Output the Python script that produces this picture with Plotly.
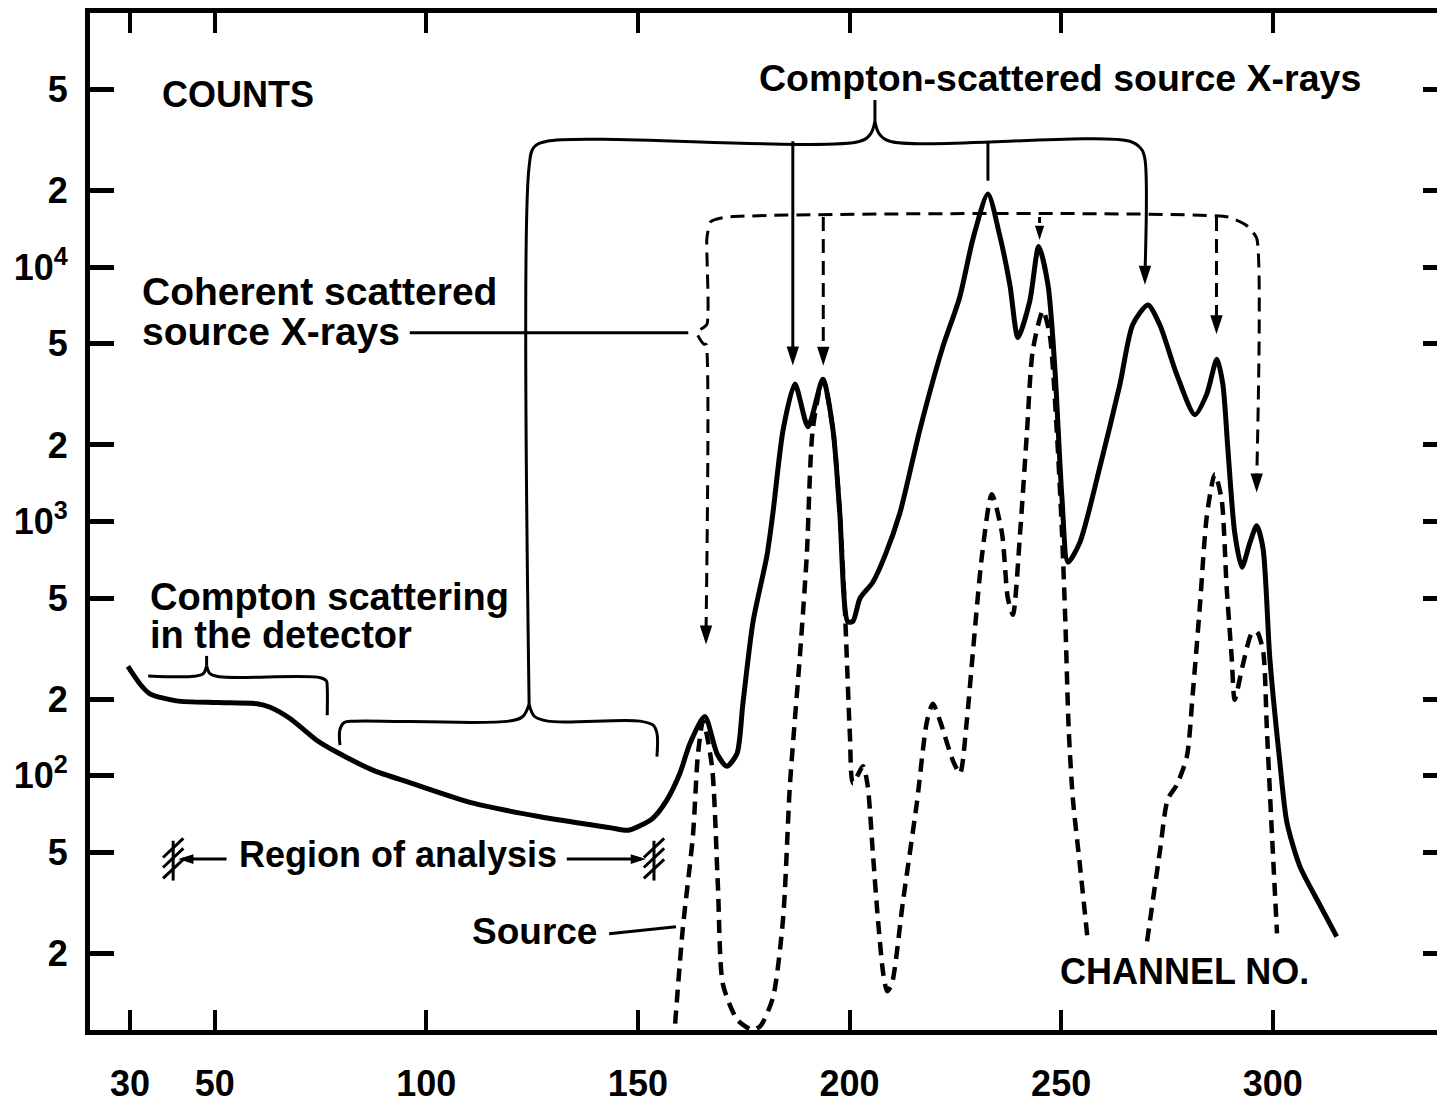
import math
import plotly.graph_objects as go

# ---- measured spectrum: channel number vs counts (total, solid line) ----
total_channel = [29.5, 32.4, 34.7, 41.0, 50.5, 60.0, 63.1, 67.8, 74.1, 78.8,
                 87.5, 96.1, 111.1, 126.9, 143.4, 147.6, 150.5, 153.5, 156.8, 159.9,
                 162.3, 165.8, 168.7, 171.0, 173.4, 174.8, 177.2, 180.5, 181.9, 184.3,
                 187.1, 190.2, 193.7, 196.1, 197.7, 199.6, 200.8, 202.5, 205.5, 208.4,
                 211.9, 216.6, 222.0, 226.0, 229.2, 232.7, 235.5, 237.9, 239.8, 242.6,
                 244.7, 246.9, 248.5, 250.2, 251.6, 254.4, 259.2, 263.9, 266.9, 270.5,
                 273.3, 277.3, 281.6, 284.4, 286.8, 288.2, 289.4, 291.0, 292.7, 294.6,
                 296.2, 297.7, 299.3, 301.7, 303.3, 306.4, 311.1, 315.1]
total_counts = [269, 229, 210, 197, 194, 192, 186, 168, 138, 124,
                105, 94, 78, 69, 62.5, 61, 63.6, 68, 80, 102,
                134, 171, 122, 109, 122, 192, 403, 736, 1080, 2290,
                3470, 2360, 3630, 2290, 1080, 403, 405, 500, 577, 736,
                1080, 2290, 4840, 7590, 13000, 19400, 13300, 8500, 5290, 7380,
                12070, 8500, 4050, 1230, 692, 826, 1650, 3470, 5940, 7110,
                5940, 3790, 2630, 3170, 4350, 3470, 1920, 904, 661, 826,
                962, 783, 290, 112, 66, 44, 31.1, 23.3]

# ---- source spectrum (dashed line), drawn in two pieces ----
source_channel_a = [158.8, 160.6, 163.0, 164.2, 165.4, 167.5, 168.9, 170.1, 173.4, 175.5,
                    177.2, 179.0, 181.9, 184.3, 185.9, 188.3, 189.9, 191.3, 193.7, 196.1,
                    197.7, 198.9, 200.1, 200.8, 203.2, 204.3, 205.5, 206.7, 208.0, 208.9,
                    210.0, 212.6, 215.9, 218.3, 219.7, 221.4, 224.4, 226.1, 227.7, 229.1,
                    231.3, 233.6, 236.0, 237.4, 238.6, 240.3, 241.9, 243.3, 245.7, 247.3,
                    249.0, 250.2, 251.0, 251.8, 252.8, 254.4, 256.3]
source_counts_a = [10.6, 25, 58, 122, 164, 109, 37, 15.1, 11.0, 10.3,
                   10.0, 10.4, 13.4, 27.4, 91, 300, 736, 2290, 3630, 2290,
                   1080, 450, 143, 93.5, 109, 91, 50, 27.4, 16.5, 14.2,
                   15.2, 31.8, 78, 164, 192, 164, 115, 102, 164, 300,
                   736, 1280, 904, 500, 430, 904, 2220, 4710, 6740, 5430,
                   2220, 904, 400, 150, 80, 45, 22.3]
source_channel_b = [270.3, 273.3, 275.2, 277.3, 279.7, 281.1, 282.8, 284.4, 286.3, 287.9,
                    289.1, 290.3, 291.0, 292.9, 295.0, 296.2, 297.7, 298.6, 299.8, 301.0]
source_counts_b = [22.3, 50, 81, 92, 119, 211, 470, 1045, 1535, 1227,
                   552, 290, 199, 272, 362, 369, 311, 153, 59, 24]

# ---- axis ticks ----
x_ticks = [30, 50, 100, 150, 200, 250, 300]
y_ticks = [20, 50, 100, 200, 500, 1000, 2000, 5000, 10000, 20000, 50000]
y_tick_text = ["2", "5", "10<sup>2</sup>", "2", "5", "10<sup>3</sup>", "2", "5",
               "10<sup>4</sup>", "2", "5"]

FONT = "Liberation Sans, Arial, sans-serif"
INK = "black"
lg = math.log10

fig = go.Figure()


def line(xs, ys, width=3, dash=None, smooth=1.0, yaxis="y"):
    fig.add_trace(go.Scatter(
        x=xs, y=ys, mode="lines", yaxis=yaxis,
        line=dict(color=INK, width=width, dash=dash, shape="spline", smoothing=smooth),
        hoverinfo="skip", showlegend=False))


def heads(xs, ys, angle=180, size=20):
    """Filled arrowheads with their tips on the given points (180 = pointing down)."""
    fig.add_trace(go.Scatter(
        x=xs, y=ys, mode="markers",
        marker=dict(symbol="arrow", angle=angle, size=size, color=INK,
                    line=dict(width=0)),
        hoverinfo="skip", showlegend=False))


def label(x, y, text, size=36, anchor="left"):
    fig.add_annotation(x=x, y=lg(y), xref="x", yref="y", text=text, showarrow=False,
                       xanchor=anchor, yanchor="middle",
                       font=dict(family=FONT, size=size, color=INK, weight="bold"))


# spectra (the source curve uses the right-hand counts axis, same scale)
line(total_channel, total_counts, width=5, smooth=0.7)
DASH = "13px,8px"
line(source_channel_a, source_counts_a, width=4.5, dash=DASH, smooth=0.7, yaxis="y2")
line(source_channel_b, source_counts_b, width=4.5, dash=DASH, smooth=0.7, yaxis="y2")

# brace: Compton scattering in the detector
line([34.3, 45.0, 47.3, 48.1], [247, 246, 252, 271])
line([48.1, 48.9, 51.2, 75.0, 76.4, 76.6, 76.6], [271, 252, 245, 243, 236, 222, 173])
line([48.1, 48.1], [271, 296], smooth=0)

# brace + tree: Compton-scattered source X-rays
line([79.6, 79.6, 80.6, 83.0, 119.5, 122.8, 124.3], [132, 152, 162, 164, 164, 171, 191])
line([124.3, 125.6, 128.7, 150.5, 153.6, 154.5, 154.5], [191, 171, 164, 164, 158, 147, 119])
line([124.3, 124.3, 125.4, 128.5, 202.5, 205.0, 206.0],
     [191, 24900, 29600, 31300, 31300, 33500, 37500])
line([206.0, 207.0, 209.5, 266.2, 269.0, 269.8, 269.8],
     [37500, 33500, 31300, 31300, 29100, 26600, 9300])
line([206.0, 206.0], [37500, 45500], smooth=0)
line([186.6, 186.6], [31300, 4500], smooth=0)
line([232.7, 232.7], [31300, 21900], smooth=0)
heads([186.6, 269.8], [4110, 8530])

# dashed tree: coherent scattered source X-rays
BDASH = "14px,8px"
line([166.1, 166.1, 165.6, 163.9, 166.3, 166.3, 167.2, 171.0, 289.5, 293.8, 296.2, 296.2],
     [370, 4980, 4980, 5530, 5960, 13000, 15100, 15750, 15750, 14600, 13000, 1450],
     width=3, dash=BDASH, smooth=0.5)
line([193.8, 193.8], [15750, 4500], width=3, dash=BDASH, smooth=0)
line([244.9, 244.9], [15750, 13800], width=3, dash="6px,4px", smooth=0)
line([286.7, 286.7], [15750, 6000], width=3, dash=BDASH, smooth=0)
heads([166.1, 193.8, 286.7, 296.2], [328, 4100, 5450, 1300])
heads([244.9], [12800], size=15)
line([96.1, 161.9], [5530, 5530], smooth=0)

# region of analysis: hatched limits and arrows
for xc in (40.2, 153.8):
    line([xc, xc], [38.7, 55.5], smooth=0)
    for yc in (52.0, 47.5, 43.0):
        line([xc - 2.4, xc + 2.4], [yc / 1.09, yc * 1.09], smooth=0)
line([42.5, 52.8], [47, 47], smooth=0)
line([133.2, 150.8], [47, 47], smooth=0)
heads([41.4], [47], angle=270, size=16)
heads([151.9], [47], angle=90, size=16)

# pointer to the source curve
line([143.2, 159.0], [23.9, 25.5], smooth=0)

# text
label(37.1, 47600, "COUNTS", size=36)
label(178.1, 55500, "Compton-scattered source X-rays", size=37.5)
label(32.4, 8000, "Coherent scattered", size=39)
label(32.4, 5580, "source X-rays", size=39)
label(34.3, 505, "Compton scattering", size=38)
label(34.3, 359, "in the detector", size=38)
label(55.2, 49, "Region of analysis", size=36)
label(110.3, 24.4, "Source", size=37)
label(249.2, 17.0, "CHANNEL NO.", size=36)

fig.update_layout(
    width=1437, height=1104,
    margin=dict(l=90, r=0, t=13, b=64),
    paper_bgcolor="white", plot_bgcolor="white",
    showlegend=False,
    xaxis=dict(range=[20.55, 338.8], showgrid=False, zeroline=False,
               showline=True, linecolor=INK, linewidth=5, mirror="ticks",
               ticks="inside", ticklen=20, tickwidth=4, tickcolor=INK,
               tickvals=x_ticks, ticktext=[str(v) for v in x_ticks],
               tickfont=dict(family=FONT, size=36, color=INK, weight="bold"),
               ticklabelstandoff=18),
    yaxis=dict(type="log", range=[1, 5], showgrid=False, zeroline=False,
               showline=True, linecolor=INK, linewidth=5,
               ticks="inside", ticklen=24, tickwidth=5, tickcolor=INK,
               tickvals=y_ticks, ticktext=y_tick_text,
               tickfont=dict(family=FONT, size=36, color=INK, weight="bold"),
               ticklabelstandoff=10),
    yaxis2=dict(type="log", range=[1, 5], overlaying="y", side="right",
                showgrid=False, zeroline=False, showline=False,
                ticks="inside", ticklen=14, tickwidth=5, tickcolor=INK,
                tickvals=y_ticks, showticklabels=False),
)

fig.write_html("out.html")
